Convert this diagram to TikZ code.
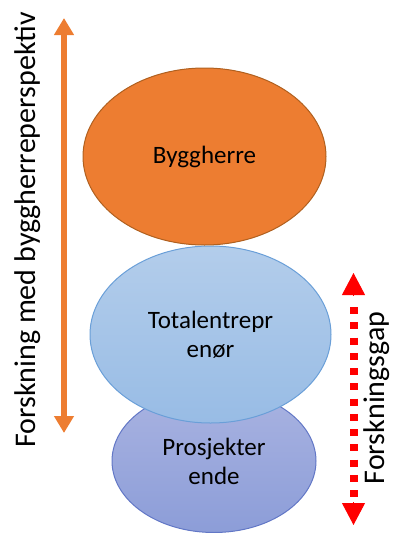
\documentclass[tikz,border=0pt]{standalone}
\usepackage{fontspec}
\setmainfont{Carlito}
\usetikzlibrary{shapes.geometric,arrows.meta}
\definecolor{orangeF}{HTML}{ED7D31}
\definecolor{orangeB}{HTML}{B0601F}
\definecolor{blueT}{HTML}{B3CDEB}
\definecolor{blueBt}{HTML}{98BCE5}
\definecolor{blueB}{HTML}{6A9FD8}
\definecolor{proT}{HTML}{A9B3E1}
\definecolor{proBt}{HTML}{8C9DD8}
\definecolor{proB}{HTML}{6277C6}
\begin{document}
\begin{tikzpicture}[x=1pt,y=-1pt,
  oval/.style={ellipse, inner sep=0pt, line width=1pt, align=center, font=\fontsize{25}{29}\selectfont},
  sidetext/.style={rotate=90, inner sep=0pt, font=\fontsize{30}{36}\selectfont}]
\useasboundingbox (0,0) rectangle (392,533);
\node[oval, draw=proB, top color=proT, bottom color=proBt, minimum width=204pt, minimum height=143pt] (pro) at (214,461) {Prosjekter\\ende};
\node[oval, draw=blueB, top color=blueT, bottom color=blueBt, minimum width=241pt, minimum height=177pt] (tot) at (210.5,334.5) {Totalentrepr\\enør};
\node[oval, draw=orangeB, fill=orangeF, minimum width=243pt, minimum height=177pt] (byg) at (204.5,156.5) {Byggherre};
% orange double arrow
\coordinate (oa) at (64,18);
\coordinate (ob) at (64,433);
\draw[orangeF, line width=6pt, {Triangle[width=19pt,length=17pt]}-{Triangle[width=19pt,length=17pt]}] (oa) -- (ob);
% red dotted double arrow
\coordinate (ra) at (353.5,273);
\coordinate (rb) at (353.5,525);
\coordinate (rha) at (353.5,296);
\coordinate (rhb) at (353.5,502);
\coordinate (rd1) at (353.5,307);
\coordinate (rd2) at (353.5,497);
\draw[red, line width=1pt, -{Triangle[width=23pt,length=22pt]}] (rha) -- (ra);
\draw[red, line width=1pt, -{Triangle[width=23pt,length=22pt]}] (rhb) -- (rb);
\draw[red, line width=8pt, dash pattern=on 7pt off 8.25pt] (rd1) -- (rd2);
% side texts
\node[sidetext] (lt) at (28,230) {Forskning med byggherreperspektiv};
\node[sidetext] (rt) at (377,398) {Forskningsgap};
\end{tikzpicture}
\end{document}
